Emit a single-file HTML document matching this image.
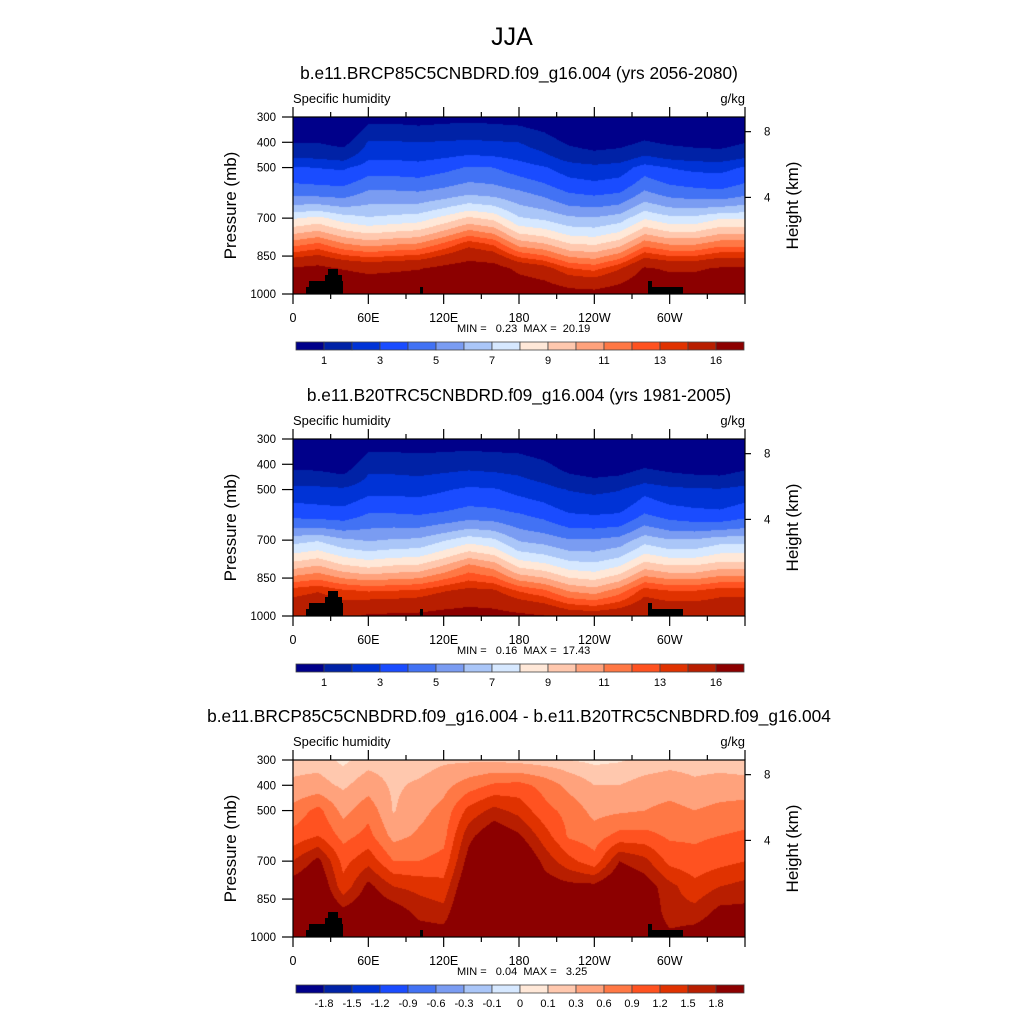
<!DOCTYPE html>
<html><head><meta charset="utf-8"><style>
html,body{margin:0;padding:0;background:#fff;width:1024px;height:1024px;overflow:hidden;position:relative;font-family:"Liberation Sans",sans-serif}
canvas{position:absolute}
svg{position:absolute;left:0;top:0}
</style></head><body>
<canvas id="c1" width="452" height="177" style="left:293px;top:117px"></canvas>
<canvas id="c2" width="452" height="177" style="left:293px;top:439px"></canvas>
<canvas id="c3" width="452" height="177" style="left:293px;top:760px"></canvas>
<svg id="ov" width="1024" height="1024"></svg>
<script>
const lons=[0,20,40,60,80,100,120,140,160,180,200,220,240,260,280,300,320,340,360];
const pressures=[300,400,500,600,700,800,900,1000];
const q1=[
[0.35,0.97,3.1,4.7,7.9,11.5,16.3,18.5],[0.35,0.97,2.97,4.6,8.3,12.1,16.7,19],[0.27,0.76,2.86,4.5,7.5,11.0,15.9,18.5],
[0.76,2.1,3.5,5.2,7.1,10.5,15.5,18],[0.76,2.1,3.5,5.2,7.3,10.8,15.7,18],[0.7,2.0,3.4,5.1,7.5,11.0,15.9,18.3],
[0.76,2.1,3.7,5.4,8.3,12.1,16.7,19],[0.8,2.2,4.1,5.8,9.2,13.5,17.3,19.5],[0.76,2.1,4.0,5.6,8.7,12.7,17.1,19.2],
[0.7,2.0,3.5,5.2,7.1,10.5,15.5,18],[0.54,1.5,3.1,4.7,6.8,10.0,14.7,17.7],[0.3,0.87,2.5,4.0,6.2,9.0,13.1,17],
[0.24,0.66,2.3,3.8,6.1,8.8,12.7,16.8],[0.27,0.76,2.5,4.0,6.5,9.5,13.9,17.5],[0.39,1.08,3.5,5.2,7.9,11.5,16.3,18.5],
[0.3,0.87,2.97,4.6,7.3,10.8,15.7,18],[0.27,0.76,2.76,4.4,7.3,10.8,15.7,18],[0.25,0.7,2.7,4.25,7.9,11.5,16.3,18.5],
[0.35,0.97,3.1,4.7,7.9,11.5,16.3,18.5]];
const q2=[
[0.27,0.76,2.4,3.7,6.6,9.5,13.5,15.5],[0.27,0.76,2.3,3.6,6.9,10.0,13.9,15.8],[0.21,0.59,2.2,3.5,6.2,9.1,13.2,15.5],
[0.59,1.64,2.7,4.1,5.9,8.7,12.9,16.3],[0.59,1.64,2.7,4.1,6.1,9.0,13.0,16.4],[0.55,1.56,2.65,4.0,6.2,9.1,13.2,16.5],
[0.59,1.64,2.9,4.2,6.9,10.0,13.9,16.8],[0.62,1.72,3.2,4.5,7.6,11.2,14.4,17],[0.59,1.64,3.1,4.4,7.2,10.5,14.2,16.8],
[0.55,1.56,2.7,4.1,5.9,8.7,12.9,16.5],[0.42,1.17,2.4,3.7,5.6,8.3,12.2,16.1],[0.23,0.68,1.95,3.1,5.1,7.5,10.9,15.2],
[0.19,0.51,1.8,3.0,5.1,7.3,10.5,15],[0.21,0.59,1.95,3.1,5.4,7.9,11.5,15.3],[0.3,0.84,2.7,4.1,6.6,9.5,13.5,15.8],
[0.23,0.68,2.3,3.6,6.1,9.0,13.0,15.5],[0.21,0.59,2.15,3.4,6.1,9.0,13.0,15.5],[0.2,0.55,2.1,3.3,6.6,9.5,13.5,15.5],
[0.27,0.76,2.4,3.7,6.6,9.5,13.5,15.5]];
const qd=[
[0.2,0.35,0.7,1.0,1.5,2.0,2.3,2.3],[0.2,0.4,1.0,1.2,1.9,2.2,2.3,2.3],[0.05,0.25,0.5,0.8,1.1,1.3,1.9,2.3],
[0.2,0.45,0.8,1.0,1.4,1.9,2.1,2.2],[0.2,0.25,0.28,0.5,0.9,1.5,2.0,2.2],[0.15,0.35,0.5,0.65,0.9,1.4,1.7,2.0],
[0.25,0.5,0.7,0.8,1.0,1.3,1.6,2.0],[0.25,0.75,1.3,1.7,1.95,2.2,2.4,2.4],[0.25,0.95,1.6,2.1,2.4,2.6,2.6,2.6],
[0.2,1.0,1.4,1.85,2.3,2.5,2.6,2.6],[0.15,0.8,1.0,1.35,1.7,2.0,2.3,2.4],[0.1,0.5,0.8,0.85,1.3,1.9,2.2,2.3],
[0.05,0.3,0.5,0.75,1.0,1.9,2.2,2.3],[0.08,0.3,0.55,1.0,1.8,2.2,2.3,2.3],[0.15,0.4,0.6,1.0,1.6,2.0,2.2,2.2],
[0.2,0.45,0.7,0.85,1.1,1.6,1.6,1.9],[0.2,0.35,0.6,0.85,1.0,1.3,1.6,2.0],[0.2,0.4,0.7,0.9,1.1,1.5,1.9,2.1],
[0.15,0.4,0.75,0.95,1.2,1.6,1.9,2.1]];
const qLevels=[1,2,3,4,5,6,7,8,9,10,11,12,13,14,16];
const qTickLabels=["1","3","5","7","9","11","13","16"];
const dLevels=[-1.8,-1.5,-1.2,-0.9,-0.6,-0.3,-0.1,0,0.1,0.3,0.6,0.9,1.2,1.5,1.8];
const dTickLabels=["-1.8","-1.5","-1.2","-0.9","-0.6","-0.3","-0.1","0","0.1","0.3","0.6","0.9","1.2","1.5","1.8"];
const xTickLons=[0,60,120,180,240,300];
const xTickLabels=["0","60E","120E","180","120W","60W"];
const pTicks=[300,400,500,700,850,1000];
const hTicks=[8,4];
const hTickP=[358,618];
const minmax=["MIN =   0.23  MAX =  20.19","MIN =   0.16  MAX =  17.43","MIN =   0.04  MAX =   3.25"];
const palette=["#00008a","#0022a6","#0033d6","#1a4cff","#4272f4","#7a9cf2","#aac6f8","#d6e8ff","#ffe8d8","#ffc8ae","#ffa27c","#ff7845","#ff5220","#e03200","#b81e00","#8c0000"];
const PX=293,PW=452,PH=177;
function xS(lon){return PX+lon/360*PW;}
function yS(p,top){return top+(p-300)*PH/700;}
function hex(c){return [parseInt(c.slice(1,3),16),parseInt(c.slice(3,5),16),parseInt(c.slice(5,7),16)];}
const rgb=palette.map(hex);
function render(id,grid,levels,useLog){
  const cv=document.getElementById(id),ctx=cv.getContext('2d');
  const img=ctx.createImageData(PW,PH);
  for(let j=0;j<PH;j++){
    const p=300+(j+0.5)/PH*700;
    let r=Math.min(pressures.length-2,Math.floor((p-300)/100));
    const u=(p-pressures[r])/(pressures[r+1]-pressures[r]);
    for(let i=0;i<PW;i++){
      const lon=(i+0.5)/PW*360;
      let k=Math.min(lons.length-2,Math.floor(lon/20));
      const t=(lon-lons[k])/(lons[k+1]-lons[k]);
      const f=v=>useLog?Math.log(v):v;
      const a=f(grid[k][r])*(1-u)+f(grid[k][r+1])*u;
      const b=f(grid[k+1][r])*(1-u)+f(grid[k+1][r+1])*u;
      let v=a*(1-t)+b*t; if(useLog)v=Math.exp(v);
      let ci=0; while(ci<levels.length&&v>=levels[ci])ci++;
      const c=rgb[ci],o=(j*PW+i)*4;
      img.data[o]=c[0];img.data[o+1]=c[1];img.data[o+2]=c[2];img.data[o+3]=255;
    }
  }
  ctx.putImageData(img,0,0);
}
render('c1',q1,qLevels,true);
render('c2',q2,qLevels,true);
render('c3',qd,dLevels,false);

const svg=document.getElementById('ov');
const NS='http://www.w3.org/2000/svg';
function el(tag,attrs,txt){const e=document.createElementNS(NS,tag);for(const k in attrs)e.setAttribute(k,attrs[k]);if(txt!==undefined)e.textContent=txt;svg.appendChild(e);return e;}
const terrain=[[13,16,7],[16,32,13],[32,35,19],[35,45,25],[45,49,19],[49,50,13],[127,130,7],[355,359,13],[355,390,7]];
let e=el('text',{x:512,y:45,'font-size':25,'text-anchor':'middle'},'JJA');


const titles=["b.e11.BRCP85C5CNBDRD.f09_g16.004 (yrs 2056-2080)","b.e11.B20TRC5CNBDRD.f09_g16.004 (yrs 1981-2005)","b.e11.BRCP85C5CNBDRD.f09_g16.004 - b.e11.B20TRC5CNBDRD.f09_g16.004"];
const tops=[117,439,760];
tops.forEach((top,n)=>{
  const bot=top+PH;
  e=el('text',{x:519,y:top-38,'font-size':17.3,'text-anchor':'middle'},titles[n]);
  
  
  e=el('text',{x:293,y:top-14,'font-size':13},'Specific humidity');
  
  
  e=el('text',{x:745,y:top-14,'font-size':13,'text-anchor':'end'},'g/kg');
  
  
  terrain.forEach(tr=>{
    e=el('rect',{x:PX+tr[0],y:bot-tr[2],width:tr[1]-tr[0],height:tr[2],fill:'#000'});
    
    
  });
  e=el('rect',{x:PX,y:top,width:PW,height:PH,fill:'none',stroke:'#000','stroke-width':1.2});
  
  
  for(let lon=0;lon<=360;lon+=30){
    const major=lon%60===0,x=xS(lon),L=major?10:5;
    e=el('line',{x1:x,x2:x,y1:bot,y2:bot+L,stroke:'#000','stroke-width':1.2});
    
    
    e=el('line',{x1:x,x2:x,y1:top,y2:top-L,stroke:'#000','stroke-width':1.2});
    
    
  }
  xTickLons.forEach((lon,i)=>{
    e=el('text',{x:xS(lon),y:bot+28,'font-size':12.5,'text-anchor':'middle'},xTickLabels[i]);
    
    
  });
  pTicks.forEach(p=>{
    const y=yS(p,top);
    e=el('line',{x1:PX-11,x2:PX,y1:y,y2:y,stroke:'#000','stroke-width':1.2});
    
    
    e=el('text',{x:276,y:y+4,'font-size':11.5,'text-anchor':'end'},String(p));
    
    
  });
  hTicks.forEach((h,i)=>{
    const y=yS(hTickP[i],top);
    e=el('line',{x1:PX+PW,x2:PX+PW+6,y1:y,y2:y,stroke:'#000','stroke-width':1.2});
    
    
    e=el('text',{x:764,y:y+4,'font-size':11.5},String(h));
    
    
  });
  const cy=top+PH/2;
  e=el('text',{x:236,y:cy,'font-size':17,'text-anchor':'middle',transform:`rotate(-90 236 ${cy})`},'Pressure (mb)');
  
  
  e=el('text',{x:798,y:cy,'font-size':17,'text-anchor':'middle',transform:`rotate(-90 798 ${cy})`},'Height (km)');
  
  
  e=el('text',{x:457,y:bot+38,'font-size':11,style:'white-space:pre'},minmax[n]);
  
  
  const cbY=bot+48,bw=28;
  for(let i=0;i<16;i++){
    e=el('rect',{x:296+i*bw,y:cbY,width:bw,height:8,fill:palette[i],stroke:'#444','stroke-width':0.8});
    
    
  }
  if(n<2){
    qTickLabels.forEach((lab,i)=>{
      e=el('text',{x:296+bw*(1+2*i),y:cbY+22,'font-size':11,'text-anchor':'middle'},lab);
      
      
    });
  } else {
    dTickLabels.forEach((lab,i)=>{
      e=el('text',{x:296+bw*(1+i),y:cbY+22,'font-size':11,'text-anchor':'middle'},lab);
      
      
    });
  }
});
</script>
</body></html>
